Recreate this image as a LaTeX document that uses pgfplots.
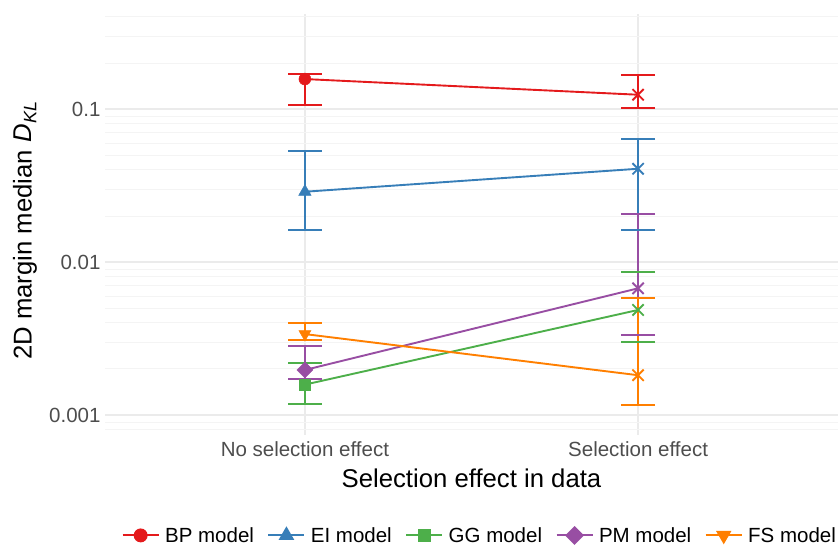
\documentclass[border=0pt]{standalone}
\usepackage{pgfplots}
\pgfplotsset{compat=1.18}
\usepackage{pgfplotstable}
\usepackage{fontspec}
\setmainfont{Liberation Sans}
\definecolor{cBP}{HTML}{E41A1C}
\definecolor{cEI}{HTML}{377EB8}
\definecolor{cGG}{HTML}{4DAF4A}
\definecolor{cPM}{HTML}{984EA3}
\definecolor{cFS}{HTML}{FF7F00}
\definecolor{gmaj}{HTML}{EBEBEB}
\definecolor{gmin}{HTML}{F4F4F4}
\definecolor{tick}{HTML}{4D4D4D}

% medians
\pgfplotstableread{
x y
1 0.157
2 0.124
}\BP
\pgfplotstableread{
x y
1 0.0288
2 0.0407
}\EI
\pgfplotstableread{
x y
1 0.00158
2 0.00486
}\GG
\pgfplotstableread{
x y
1 0.00197
2 0.00673
}\PM
\pgfplotstableread{
x y
1 0.00338
2 0.00182
}\FS
% error bar ranges (low, high) per category
\pgfplotstableread{
x y
1 0.106
1 0.169
nan nan
2 0.102
2 0.168
}\BPe
\pgfplotstableread{
x y
1 0.0163
1 0.0534
nan nan
2 0.0163
2 0.0640
}\EIe
\pgfplotstableread{
x y
1 0.00118
1 0.00219
nan nan
2 0.00299
2 0.00865
}\GGe
\pgfplotstableread{
x y
1 0.00172
1 0.00284
nan nan
2 0.00334
2 0.0206
}\PMe
\pgfplotstableread{
x y
1 0.00310
1 0.00399
nan nan
2 0.00117
2 0.00580
}\FSe

\newcommand{\errplot}[2]{%
\addplot[forget plot, #1, line width=1.9bp, mark=-, mark size=17bp, unbounded coords=jump,
  mark options={line width=1.9bp}] table[x=x, y=y] {#2};}
\newcommand{\lineplot}[2]{%
\addplot[forget plot, #1, line width=1.9bp, mark=none] table[x=x,y=y] {#2};}

\begin{document}
\begin{tikzpicture}
\useasboundingbox (0,0) rectangle (838bp,547bp);
\begin{axis}[
  at={(105bp,112bp)}, anchor=south west,
  scale only axis, width=733bp, height=421bp,
  xmin=0.4, xmax=2.6,
  ymode=log, ymin=0.00074, ymax=0.418,
  xtick={1,2}, xticklabels={No selection effect, Selection effect},
  ytick={0.001,0.01,0.1}, yticklabels={0.001,0.01,0.1},
  minor ytick={0.0008,0.0009,0.002,0.003,0.004,0.005,0.006,0.007,0.008,0.009,0.02,0.03,0.04,0.05,0.06,0.07,0.08,0.09,0.2,0.3,0.4},
  axis line style={draw=none},
  major tick length=0pt, minor tick length=0pt,
  xmajorgrids, ymajorgrids, yminorgrids,
  major grid style={gmaj, line width=1.6bp},
  minor grid style={gmin, line width=0.9bp},
  tick label style={font=\fontsize{20.5bp}{24bp}\selectfont, text=tick},
  yticklabel style={xshift=-1bp},
  xticklabel style={yshift=-3bp},
  every axis x label/.style={at={(axis description cs:0.5,-0.102)}, anchor=center},
  every axis y label/.style={at={(axis description cs:-0.1091,0.485)}, anchor=center, rotate=90},
  label style={font=\fontsize{25.7bp}{30bp}\selectfont},
  xlabel={Selection effect in data},
  ylabel={2D margin median \textit{D}\raisebox{-0.35ex}{\fontsize{18bp}{20bp}\selectfont\textit{KL}}},
  legend columns=5,
  legend style={draw=none, fill=none, at={(axis description cs:0.511,-0.2385)}, anchor=center,
    font=\fontsize{20.5bp}{21bp}\selectfont, text=black,
    /tikz/every even column/.append style={column sep=12bp},
    /tikz/every odd column/.append style={column sep=4bp},
    nodes={inner sep=1.5bp}},
  legend image code/.code={\draw[mark repeat=2,mark phase=2,#1] plot coordinates {(0bp,0bp) (18bp,0bp) (36bp,0bp)};},
  clip=false,
]
\errplot{cBP}{\BPe}
\errplot{cEI}{\EIe}
\errplot{cGG}{\GGe}
\errplot{cPM}{\PMe}
\errplot{cFS}{\FSe}
\lineplot{cBP}{\BP}
\lineplot{cEI}{\EI}
\lineplot{cGG}{\GG}
\lineplot{cPM}{\PM}
\lineplot{cFS}{\FS}
% points
\addplot[forget plot, only marks, cBP, mark=*, mark size=6bp] table[x=x,y=y, restrict x to domain=0.5:1.5] {\BP};
\addplot[forget plot, only marks, cEI, mark=triangle*, mark size=7.2bp] table[x=x,y=y, restrict x to domain=0.5:1.5] {\EI};
\addplot[forget plot, only marks, cGG, mark=square*, mark size=5.7bp] table[x=x,y=y, restrict x to domain=0.5:1.5] {\GG};
\addplot[forget plot, only marks, cPM, mark=square*, mark size=5.7bp, mark options={rotate=45}] table[x=x,y=y, restrict x to domain=0.5:1.5] {\PM};
\addplot[forget plot, only marks, cFS, mark=triangle*, mark size=7bp, mark options={rotate=180}] table[x=x,y=y, restrict x to domain=0.5:1.5] {\FS};
\addplot[forget plot, only marks, cBP, mark=x, mark size=8bp, mark options={line width=1.9bp}] table[x=x,y=y, restrict x to domain=1.5:2.5] {\BP};
\addplot[forget plot, only marks, cEI, mark=x, mark size=8bp, mark options={line width=1.9bp}] table[x=x,y=y, restrict x to domain=1.5:2.5] {\EI};
\addplot[forget plot, only marks, cGG, mark=x, mark size=8bp, mark options={line width=1.9bp}] table[x=x,y=y, restrict x to domain=1.5:2.5] {\GG};
\addplot[forget plot, only marks, cPM, mark=x, mark size=8bp, mark options={line width=1.9bp}] table[x=x,y=y, restrict x to domain=1.5:2.5] {\PM};
\addplot[forget plot, only marks, cFS, mark=x, mark size=8bp, mark options={line width=1.9bp}] table[x=x,y=y, restrict x to domain=1.5:2.5] {\FS};
% legend
\addlegendimage{cBP, line width=1.9bp, mark=*, mark size=6bp}
\addlegendentry{BP model}
\addlegendimage{cEI, line width=1.9bp, mark=triangle*, mark size=7.2bp}
\addlegendentry{EI model}
\addlegendimage{cGG, line width=1.9bp, mark=square*, mark size=5.7bp}
\addlegendentry{GG model}
\addlegendimage{cPM, line width=1.9bp, mark=square*, mark size=5.7bp, mark options={rotate=45}}
\addlegendentry{PM model}
\addlegendimage{cFS, line width=1.9bp, mark=triangle*, mark size=7bp, mark options={rotate=180}}
\addlegendentry{FS model}
\end{axis}
\end{tikzpicture}
\end{document}
